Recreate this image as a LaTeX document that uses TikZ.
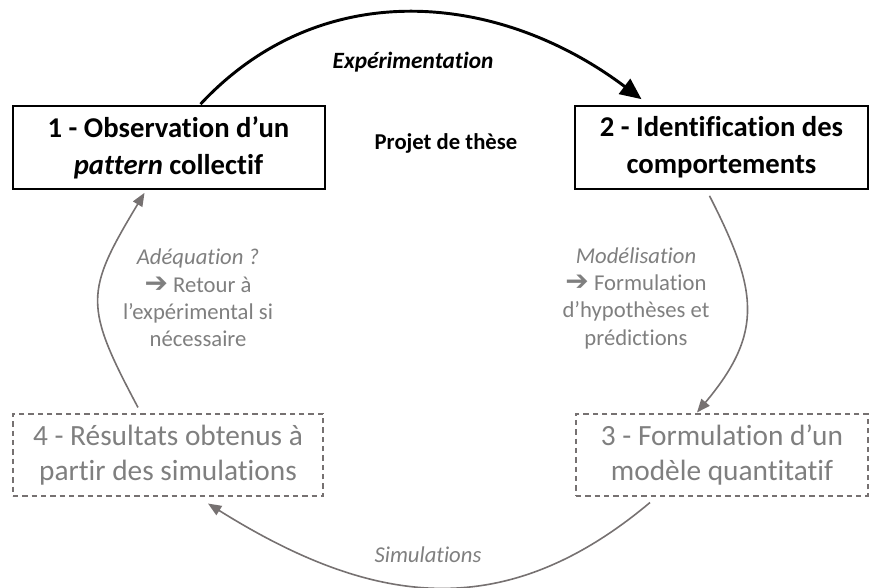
\documentclass[tikz,border=0pt]{standalone}
\usepackage{fontspec}
\setmainfont{Carlito}[Ligatures=NoCommon]
\newfontfamily\symfont{DejaVu Sans}
\usepackage{tikz}
\usetikzlibrary{arrows.meta}
\definecolor{greytext}{RGB}{127,127,127}
\definecolor{greyline}{RGB}{118,113,113}

\begin{document}
\begin{tikzpicture}[x=0.75pt,y=-0.75pt,
  stepsolid/.style={draw=black,line width=1.5pt,minimum height=62pt,inner sep=0pt,
    align=center,font=\fontsize{21.5}{27.5}\selectfont\bfseries},
  stepdashed/.style={draw=greyline,dash pattern=on 4pt off 3pt,line width=0.8pt,minimum height=61.5pt,
    inner sep=0pt,align=center,text=greytext,font=\fontsize{22}{26}\selectfont},
  phase/.style={align=center,text=greytext,font=\fontsize{17}{20.5}\selectfont},
  loopblack/.style={draw=black,line width=2.2pt,-{Triangle[length=16pt,width=14pt]}},
  loopgrey/.style={draw=greyline,line width=1.2pt,-{Triangle[length=10pt,width=8pt]}}]
\newcommand{\Fleche}{{\symfont\fontsize{21}{20}\selectfont ➔}}
\useasboundingbox (0,0) rectangle (869,588);
\coordinate (C1) at (168.5,147.5);
\coordinate (C2) at (721.5,147.5);
\coordinate (C3) at (722,455);
\coordinate (C4) at (168,455);

\node[stepsolid,minimum width=234pt] (obs) at (C1) {1 - Observation d’un\\\textit{pattern} collectif};% step 1
\node[stepsolid,minimum width=220pt] (ident) at (C2) {2 - Identification des\\comportements};% step 2
\node[stepdashed,minimum width=219pt] (modele) at (C3) {3 - Formulation d’un\\modèle quantitatif};% step 3
\node[stepdashed,minimum width=232.5pt] (result) at (C4) {4 - Résultats obtenus à\\partir des simulations};% step 4

\node[font=\fontsize{17.5}{20}\selectfont\bfseries\itshape] (lblexp) at (413,62) {Expérimentation};
\node[font=\fontsize{17}{20}\selectfont\bfseries] (lblthese) at (446,143) {Projet de thèse};
\node[phase] (lbladeq) at (198,298) {\textit{Adéquation ?}\\\Fleche{} Retour à\\l’expérimental si\\nécessaire};
\node[phase] (lblmod) at (636,298) {\textit{Modélisation}\\\Fleche{} Formulation\\d’hypothèses et\\prédictions};
\node[phase,font=\fontsize{17}{20}\selectfont\itshape] (lblsim) at (428,555) {Simulations};

\draw[loopblack] ([shift={(32,-1)}]obs.north) to[out=47,in=143,looseness=1.03] ([shift={(-80,-6)}]ident.north);% 1 -> 2
\draw[loopgrey] ([shift={(-12,6)}]ident.south) to[out=-63,in=50,looseness=1.24] ([shift={(-25,-1)}]modele.north);% 2 -> 3
\draw[loopgrey] ([shift={(-72,6)}]modele.south) to[out=220,in=-32,looseness=1.11] ([shift={(40,7)}]result.south);% 3 -> 4
\draw[loopgrey] ([shift={(-30,-6)}]result.north) to[out=118,in=-121,looseness=1.38] ([shift={(-24,3)}]obs.south);% 4 -> 1
\end{tikzpicture}
\end{document}
